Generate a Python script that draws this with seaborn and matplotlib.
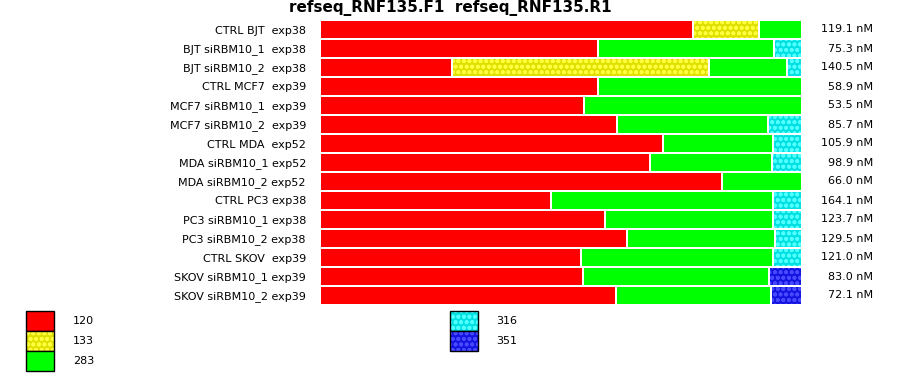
import numpy as np
import pandas as pd
import matplotlib
matplotlib.use("Agg")
import matplotlib.pyplot as plt
from matplotlib.patches import Patch
from matplotlib.legend_handler import HandlerTuple
import seaborn as sns

labels = [
    "CTRL BJT  exp38", "BJT siRBM10_1  exp38", "BJT siRBM10_2  exp38",
    "CTRL MCF7  exp39", "MCF7 siRBM10_1  exp39", "MCF7 siRBM10_2  exp39",
    "CTRL MDA  exp52", "MDA siRBM10_1 exp52", "MDA siRBM10_2 exp52",
    "CTRL PC3 exp38", "PC3 siRBM10_1 exp38", "PC3 siRBM10_2 exp38",
    "CTRL SKOV  exp39", "SKOV siRBM10_1 exp39", "SKOV siRBM10_2 exp39",
]
series_names = ["120", "133", "283", "316", "351"]
v120 = [77.7, 57.9, 27.5, 57.9, 55.0, 61.9, 71.5, 68.8, 83.8, 48.1, 59.4, 64.0, 54.4, 54.8, 61.7]
v133 = [13.8, 0, 53.5, 0, 0, 0, 0, 0, 0, 0, 0, 0, 0, 0, 0]
v283 = [8.5, 36.7, 16.3, 42.1, 45.0, 31.5, 22.9, 25.4, 16.2, 46.3, 35.0, 30.8, 40.0, 38.7, 32.3]
v316 = [0, 5.4, 2.7, 0, 0, 6.7, 5.6, 5.8, 0, 5.6, 5.6, 5.2, 5.6, 0, 0]
v351 = [0, 0, 0, 0, 0, 0, 0, 0, 0, 0, 0, 0, 0, 6.5, 6.0]
conc = [119.1, 75.3, 140.5, 58.9, 53.5, 85.7, 105.9, 98.9, 66.0, 164.1, 123.7, 129.5, 121.0, 83.0, 72.1]
title = "refseq_RNF135.F1  refseq_RNF135.R1"

face = ["#ff0000", "#e0e000", "#00ff00", "#00e0e0", "#1414e0"]
dots = [None, "#ffff40", None, "#50ffff", "#4848ff"]

sns.set_style("white")
plt.rcParams["font.family"] = ["DejaVu Sans"]
plt.rcParams["text.color"] = "black"
plt.rcParams["ytick.color"] = "black"
plt.rcParams["ytick.labelcolor"] = "black"
plt.rcParams["hatch.linewidth"] = 1.2

fig = plt.figure(figsize=(9, 3.75), dpi=100)
ax = fig.add_axes([321 / 900, 1 - 305 / 375, 480 / 900, 285 / 375])

vals = np.array([v120, v133, v283, v316, v351], dtype=float)
vals = vals / vals.sum(axis=0) * 100.0
cum = np.cumsum(vals, axis=0)
gap = 2.0 / 480 * 100
bw = 17 / 19

for k in range(len(series_names) - 1, -1, -1):
    present = vals[k] > 0
    later = (vals[k + 1:] > 0).any(axis=0) if k < len(series_names) - 1 else np.zeros(len(labels), bool)
    rows = [i for i in range(len(labels)) if present[i]]
    if not rows:
        continue
    df_w = pd.DataFrame({"label": [labels[i] for i in rows], "w": [cum[k, i] for i in rows]})
    df_c = pd.DataFrame({"label": [labels[i] for i in rows],
                         "w": [cum[k, i] - (gap if later[i] else 0) for i in rows]})
    sns.barplot(data=df_w, x="w", y="label", order=labels, orient="h", color="white",
                saturation=1, width=bw, errorbar=None, linewidth=0, ax=ax)
    kw = dict(linewidth=0)
    if dots[k]:
        kw.update(hatch="ooo", edgecolor=dots[k])
    sns.barplot(data=df_c, x="w", y="label", order=labels, orient="h", color=face[k],
                saturation=1, width=bw, errorbar=None, ax=ax, **kw)

ax.set_xlim(0, 100)
ax.set_ylim(len(labels) - 0.5, -0.5)
ax.set_xlabel("")
ax.set_ylabel("")
ax.set_xticks([])
for s in ax.spines.values():
    s.set_visible(False)
ax.tick_params(axis="y", length=0, pad=10.8, labelsize=8, labelcolor="black")

for i, c in enumerate(conc):
    ax.text(1.15, i, f"{c:.1f} nM", transform=ax.get_yaxis_transform(),
            ha="right", va="center", fontsize=8, color="black")

fig.text(0.5, 1 - 8.5 / 375, title, ha="center", va="center", fontsize=11,
         fontweight="bold", color="black")

def handle(k):
    if dots[k]:
        base = Patch(facecolor=face[k], edgecolor=dots[k], hatch="ooo", linewidth=0)
    else:
        base = Patch(facecolor=face[k], linewidth=0)
    return (base, Patch(facecolor="none", edgecolor="black", linewidth=1))

lkw = dict(loc="upper left", frameon=False, fontsize=8, handlelength=2.5, handleheight=2.39,
           labelspacing=0.0, handletextpad=1.7, borderpad=0, borderaxespad=0,
           labelcolor="black", handler_map={tuple: HandlerTuple(ndivide=1)})
fig.legend([handle(0), handle(1), handle(2)], series_names[:3],
           bbox_to_anchor=(26 / 900, 1 - 311 / 375), **lkw)
fig.legend([handle(3), handle(4)], series_names[3:],
           bbox_to_anchor=(450 / 900, 1 - 311 / 375), **lkw)

fig.savefig("out.png", dpi=100)
